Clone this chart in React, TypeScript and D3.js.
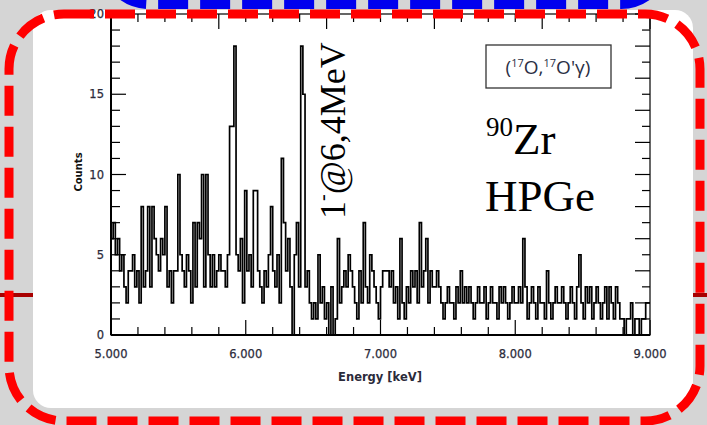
import React from "react";
import * as d3 from "d3";

// Histogram counts, 16 keV bins from 5000 to 9000 keV
const binStart = 5000;
const binWidth = 16;
const counts: number[] = [
  // 5.0 - 5.4
  6, 7, 5, 6, 4, 5, 3, 2, 4, 4, 5, 3, 4, 2, 8, 3, 4, 8, 3, 8, 6, 5, 4, 6, 5,
  // 5.4 - 5.8
  8, 3, 4, 2, 4, 4, 10, 5, 4, 3, 5, 4, 2, 7, 3, 7, 6, 10, 3, 10, 5, 3, 5, 3, 4,
  // 5.8 - 6.2
  5, 4, 4, 3, 5, 13, 13, 18, 5, 4, 6, 2, 9, 4, 5, 3, 9, 9, 4, 3, 2, 4, 3, 5, 8,
  // 6.2 - 6.6
  4, 3, 5, 2, 11, 7, 4, 6, 3, 0, 5, 7, 3, 18, 15, 3, 4, 2, 1, 2, 1, 5, 2, 3, 1,
  // 6.6 - 7.0
  2, 0, 3, 0, 1, 6, 2, 3, 4, 3, 5, 4, 3, 2, 1, 4, 2, 7, 3, 2, 5, 4, 3, 2, 1,
  // 7.0 - 7.4
  3, 4, 4, 4, 3, 4, 2, 3, 1, 6, 2, 1, 3, 2, 4, 3, 4, 2, 7, 3, 4, 6, 2, 4, 3,
  // 7.4 - 7.8
  3, 4, 3, 2, 1, 2, 3, 2, 2, 1, 3, 2, 4, 2, 3, 2, 3, 2, 1, 2, 3, 2, 2, 3, 1,
  // 7.8 - 8.2
  2, 3, 2, 2, 1, 3, 2, 3, 2, 1, 2, 3, 2, 2, 3, 2, 6, 3, 1, 2, 3, 2, 1, 3, 2,
  // 8.2 - 8.6
  2, 1, 4, 2, 1, 2, 3, 2, 2, 3, 2, 1, 2, 3, 2, 1, 3, 5, 2, 1, 3, 2, 3, 1, 2,
  // 8.6 - 9.0
  3, 2, 1, 2, 3, 1, 3, 2, 1, 3, 2, 1, 1, 0, 1, 1, 2, 0, 1, 1, 0, 1, 1, 2, 2,
];

const xTickLabels = [5000, 6000, 7000, 8000, 9000];
const yTickLabels = [0, 5, 10, 15, 20];
const xDomain = [5000, 9000];
const yDomain = [0, 20];

const W = 707;
const H = 425;

export default function App() {
  const x = d3.scaleLinear().domain(xDomain).range([111, 650]);
  const y = d3.scaleLinear().domain(yDomain).range([335, 14]);

  const pts: [number, number][] = counts.map((c, i) => [binStart + i * binWidth, c]);
  pts.push([binStart + counts.length * binWidth, counts[counts.length - 1]]);
  const line = d3
    .line<[number, number]>()
    .x((d) => x(d[0]))
    .y((d) => y(d[1]))
    .curve(d3.curveStepAfter);
  const path = line(pts) || "";

  const xMinor = d3.range(5000, 9001, 200);
  const yMinor = d3.range(0, 21, 1);

  const [x0, x1] = x.range();
  const [y0, y1] = y.range();

  const tickFont = "'DejaVu Sans', sans-serif";

  return (
    <svg
      width={W}
      height={H}
      style={{ position: "absolute", left: 0, top: 0, display: "block" }}
    >
      <rect x={0} y={0} width={W} height={H} fill="#d5d5d5" />
      {/* dark red horizontal lines behind */}
      <rect x={0} y={293} width={34} height={4} fill="#a80000" />
      <rect x={690} y={293} width={17} height={4} fill="#a80000" />
      {/* white panel */}
      <rect x={33} y={10} width={660} height={398} rx={18} fill="#ffffff" />
      {/* blue dashed rounded rect (top, mostly off-screen) */}
      <rect
        x={104}
        y={-300}
        width={562}
        height={304}
        rx={45}
        fill="none"
        stroke="#0000ee"
        strokeWidth={10}
        strokeDasharray="30 12"
      />

      {/* histogram */}
      <defs>
        <clipPath id="plotclip">
          <rect x={x0} y={y1} width={x1 - x0} height={y0 - y1} />
        </clipPath>
      </defs>
      <path
        d={path}
        fill="none"
        stroke="#000"
        strokeWidth={1.7}
        clipPath="url(#plotclip)"
      />

      {/* frame */}
      <rect x={x0} y={y1} width={x1 - x0} height={y0 - y1} fill="none" stroke="#000" strokeWidth={1.2} />
      <line x1={x0} x2={x1} y1={y0} y2={y0} stroke="#000" strokeWidth={2} />
      <line x1={x0} x2={x0} y1={y0} y2={y1} stroke="#000" strokeWidth={2} />

      {/* bottom ticks */}
      {xMinor.map((v) => {
        const major = v % 1000 === 0;
        return (
          <line key={"bx" + v} x1={x(v)} x2={x(v)} y1={y0} y2={y0 - (major ? 15 : 8)} stroke="#000" strokeWidth={1.2} />
        );
      })}
      {/* top ticks */}
      {xMinor.map((v) => {
        const major = (v - 5000) % 800 === 0;
        return (
          <line key={"tx" + v} x1={x(v)} x2={x(v)} y1={y1} y2={y1 + (major ? 15 : 8)} stroke="#000" strokeWidth={1.2} />
        );
      })}
      {/* left ticks */}
      {yMinor.map((v) => {
        const major = v % 5 === 0;
        return (
          <line key={"ly" + v} x1={x0} x2={x0 + (major ? 15 : 9)} y1={y(v)} y2={y(v)} stroke="#000" strokeWidth={1.2} />
        );
      })}
      {/* right ticks */}
      {yMinor.map((v) => {
        const major = v % 2 === 0;
        return (
          <line key={"ry" + v} x1={x1} x2={x1 - (major ? 15 : 8)} y1={y(v)} y2={y(v)} stroke="#000" strokeWidth={1.2} />
        );
      })}

      {/* x tick labels */}
      {xTickLabels.map((v) => (
        <text
          key={"xl" + v}
          x={x(v)}
          y={358}
          textAnchor="middle"
          fontFamily={tickFont}
          fontSize={11.5}
          fill="#2b2b3a"
          stroke="#2b2b3a"
          strokeWidth={0.25}
        >
          {(v / 1000).toFixed(3)}
        </text>
      ))}
      {/* y tick labels */}
      {yTickLabels.map((v) => (
        <text
          key={"yl" + v}
          x={104}
          y={y(v) + 4}
          textAnchor="end"
          fontFamily={tickFont}
          fontSize={11.5}
          fill="#2b2b3a"
          stroke="#2b2b3a"
          strokeWidth={0.25}
        >
          {v}
        </text>
      ))}

      {/* axis titles */}
      <text x={380} y={381} textAnchor="middle" fontFamily={tickFont} fontWeight="bold" fontSize={11.5} fill="#2b2b3a">
        Energy [keV]
      </text>
      <text
        transform="translate(82,172) rotate(-90)"
        textAnchor="middle"
        fontFamily={tickFont}
        fontWeight="bold"
        fontSize={10}
        fill="#111"
      >
        Counts
      </text>

      {/* legend box */}
      <rect x={486} y={45} width={125} height={43} fill="#fff" stroke="#333" strokeWidth={1.3} />
      <text x={548} y={74} textAnchor="middle" fontFamily="'Open Sans', sans-serif" fontSize={19} fill="#2a2f45">
        (<tspan fontSize={11} dy={-7}>17</tspan>
        <tspan dy={7}>O,</tspan>
        <tspan fontSize={11} dy={-7}>17</tspan>
        <tspan dy={7}>O'γ)</tspan>
      </text>

      {/* annotations */}
      <text
        transform="translate(345,219) rotate(-90)"
        fontFamily="'Liberation Serif', 'DejaVu Serif', serif"
        fontSize={36}
        fill="#000"
      >
        1<tspan fontSize={20} dy={-16}>-</tspan>
        <tspan dy={16}>@6,4MeV</tspan>
      </text>
      <text x={486} y={154} fontFamily="'Liberation Serif', serif" fontSize={45} fill="#000">
        <tspan fontSize={27} dy={-18}>90</tspan>
        <tspan dy={18}>Zr</tspan>
      </text>
      <text x={485} y={211} fontFamily="'Liberation Serif', serif" fontSize={45} fill="#000">
        HPGe
      </text>

      {/* red dashed rounded rect */}
      <rect
        x={9}
        y={14}
        width={691}
        height={407}
        rx={55}
        fill="none"
        stroke="#ff0000"
        strokeWidth={9}
        strokeDasharray="30 11"
      />
    </svg>
  );
}
